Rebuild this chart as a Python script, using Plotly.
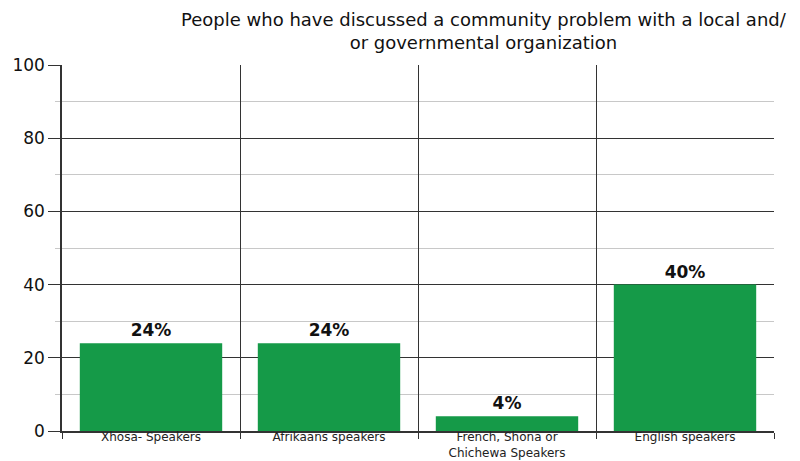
import plotly.graph_objects as go

categories = ["Xhosa- Speakers", "Afrikaans speakers", "French, Shona or<br>Chichewa Speakers", "English speakers"]
values = [24, 24, 4, 40]
title_text = "People who have discussed a community problem with a local and/<br>or governmental organization"
y_ticks = [0, 20, 40, 60, 80, 100]

fig = go.Figure()
fig.add_trace(go.Bar(
    x=categories, y=values,
    marker=dict(color="#159a48", line=dict(width=0)),
    width=0.8,
    texttemplate="<b>%{y}%</b>", textposition="outside",
    textfont=dict(family="DejaVu Sans", size=17, color="#111"),
    cliponaxis=False,
))

fig.update_layout(
    width=800, height=461,
    margin=dict(l=62, r=26, t=65, b=30, autoexpand=False),
    paper_bgcolor="white", plot_bgcolor="white",
    showlegend=False,
    font=dict(family="DejaVu Sans", color="#111"),
    annotations=[dict(
        text=title_text, xref="paper", yref="paper",
        x=(484 - 62) / (774 - 62), y=1, yshift=10,
        xanchor="center", yanchor="bottom", showarrow=False, align="center",
        font=dict(family="DejaVu Sans", size=18, color="#111"),
    )],
)

fig.update_yaxes(
    range=[0, 100], tickvals=y_ticks, ticks="outside", ticklen=12, tickcolor="#333",
    tickfont=dict(family="DejaVu Sans", size=17, color="#111"),
    showgrid=True, gridcolor="#333", gridwidth=1,
    minor=dict(dtick=10, showgrid=True, gridcolor="#c8c8c8", ticks="outside", ticklen=5, tickcolor="#c8c8c8"),
    showline=True, linecolor="#333", linewidth=1.5, zeroline=False,
    automargin=False,
)
fig.update_xaxes(
    tickson="boundaries", ticks="outside", ticklen=6, tickcolor="#333",
    tickfont=dict(family="DejaVu Sans", size=12, color="#222"),
    showgrid=True, gridcolor="#333", gridwidth=1,
    showline=True, linecolor="#333", linewidth=1.5,
    ticklabelstandoff=-6, automargin=False,
)

fig.write_html("out.html")
